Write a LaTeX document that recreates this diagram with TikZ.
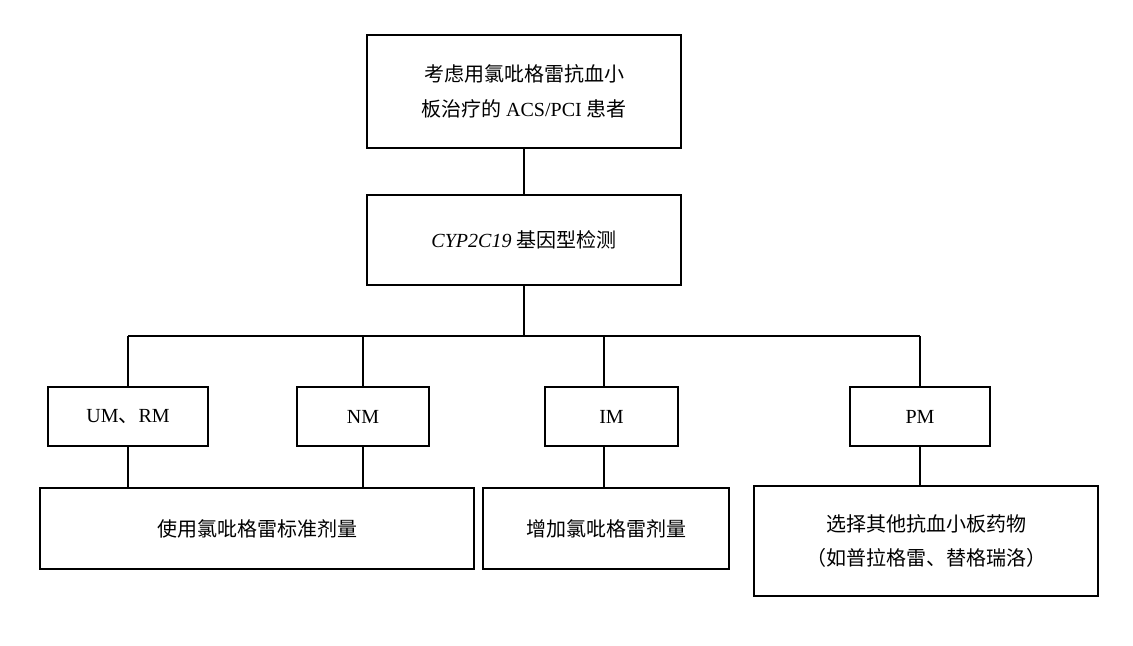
\documentclass[tikz,border=0pt]{standalone}
\usepackage{fontspec}
\setmainfont{Liberation Serif}
\newfontfamily\cjk{Noto Sans CJK SC}
\begin{document}
\begin{tikzpicture}[x=0.75pt,y=-0.75pt,
  bx/.style={draw,thick,inner sep=0pt,font=\fontsize{15}{26}\selectfont,align=center},
  ln/.style={thick}]
\useasboundingbox (0,0) rectangle (1133,646);
\node[bx,minimum width=314*0.75pt,minimum height=113*0.75pt] (top) at (524,91.5) {{\cjk 考虑用氯吡格雷抗血小}\\{\cjk 板治疗的} ACS/PCI {\cjk 患者}};
\node[bx,minimum width=314*0.75pt,minimum height=90*0.75pt] (mid) at (524,240) {\textit{CYP2C19} {\cjk 基因型检测}};
\node[bx,minimum width=160*0.75pt,minimum height=59*0.75pt] (um) at (128,416.5) {UM{\cjk 、}RM};
\node[bx,minimum width=132*0.75pt,minimum height=59*0.75pt] (nm) at (363,416.5) {NM};
\node[bx,minimum width=133*0.75pt,minimum height=59*0.75pt] (im) at (611.5,416.5) {IM};
\node[bx,minimum width=140*0.75pt,minimum height=59*0.75pt] (pm) at (920,416.5) {PM};
\node[bx,minimum width=434*0.75pt,minimum height=81*0.75pt] (b1) at (257,528.5) {\cjk 使用氯吡格雷标准剂量};
\node[bx,minimum width=246*0.75pt,minimum height=81*0.75pt] (b2) at (606,528.5) {\cjk 增加氯吡格雷剂量};
\node[bx,minimum width=344*0.75pt,minimum height=110*0.75pt] (b3) at (926,541) {{\cjk 选择其他抗血小板药物}\\{\cjk （如普拉格雷、替格瑞洛）}};
\coordinate (j) at (524,336);
\coordinate (imx) at (604,0);
\draw[ln] (top) -- (mid);
\draw[ln] (mid) -- (j);
\draw[ln] (um.north |- j) -- (pm.north |- j);
\draw[ln] (um.north |- j) -- (um.north);
\draw[ln] (nm.north |- j) -- (nm.north);
\draw[ln] (imx |- j) -- (imx |- im.north);
\draw[ln] (pm.north |- j) -- (pm.north);
\draw[ln] (um.south) -- (um.south |- b1.north);
\draw[ln] (nm.south) -- (nm.south |- b1.north);
\draw[ln] (imx |- im.south) -- (imx |- b2.north);
\draw[ln] (pm.south) -- (pm.south |- b3.north);
\end{tikzpicture}
\end{document}
